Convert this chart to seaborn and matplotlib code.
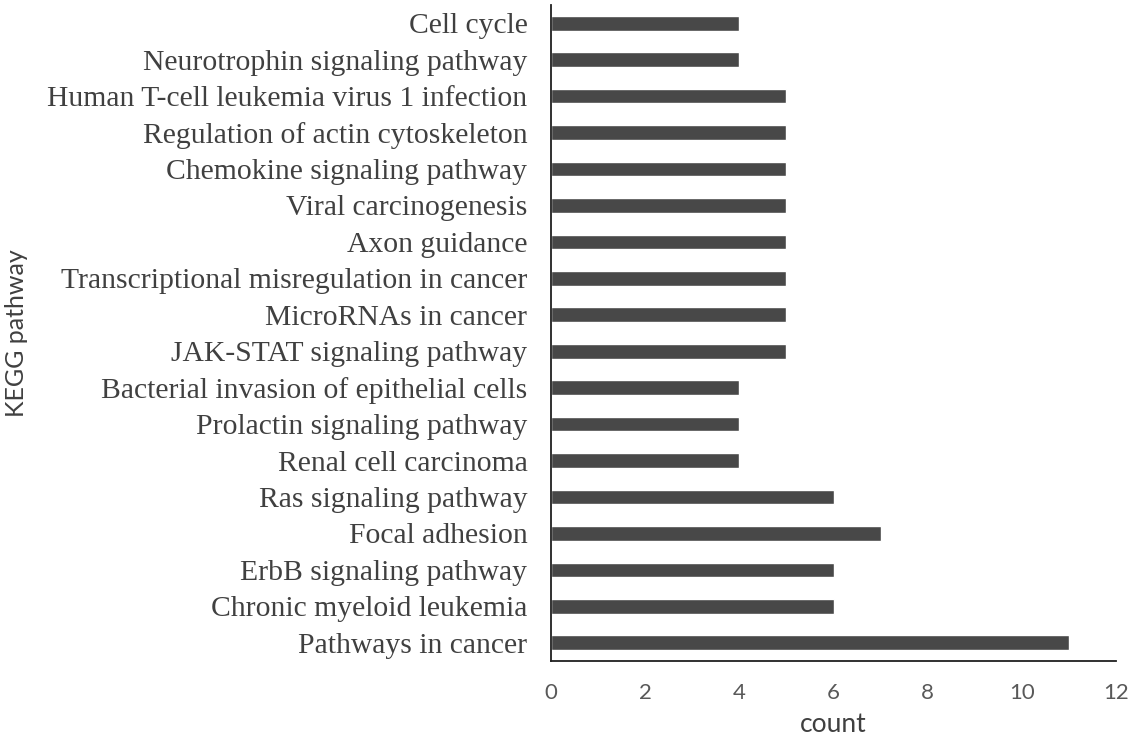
import matplotlib
matplotlib.use("Agg")
import matplotlib.pyplot as plt
import seaborn as sns
import pandas as pd

pathways = [
    "Cell cycle",
    "Neurotrophin signaling pathway",
    "Human T-cell leukemia virus 1 infection",
    "Regulation of actin cytoskeleton",
    "Chemokine signaling pathway",
    "Viral carcinogenesis",
    "Axon guidance",
    "Transcriptional misregulation in cancer",
    "MicroRNAs in cancer",
    "JAK-STAT signaling pathway",
    "Bacterial invasion of epithelial cells",
    "Prolactin signaling pathway",
    "Renal cell carcinoma",
    "Ras signaling pathway",
    "Focal adhesion",
    "ErbB signaling pathway",
    "Chronic myeloid leukemia",
    "Pathways in cancer",
]
counts = [4, 4, 5, 5, 5, 5, 5, 5, 5, 5, 4, 4, 4, 6, 7, 6, 6, 11]
x_ticks = [0, 2, 4, 6, 8, 10, 12]

df = pd.DataFrame({"pathway": pathways, "count": counts})

sns.set_style("white")
plt.rcParams["font.family"] = ["Lato", "DejaVu Sans"]

fig = plt.figure(figsize=(11.41, 7.35), dpi=100)
ax = fig.add_axes([0.4829, 0.1007, 0.4952, 0.8925])

sns.barplot(data=df, x="count", y="pathway", order=pathways, color="#484848",
            saturation=1, width=0.40, ax=ax)

ax.set_xlim(0, 12)
ax.set_xticks(x_ticks)
ax.set_xticklabels([str(t) for t in x_ticks], fontsize=16, color="#595959")
ax.set_yticklabels(pathways, family="Liberation Serif", fontsize=21.3, color="#404040")
ax.tick_params(axis="both", length=0)
ax.tick_params(axis="x", pad=16)
ax.tick_params(axis="y", pad=17)

ax.set_xlabel("count", fontsize=19, color="#404040", labelpad=6)
ax.set_ylabel("KEGG pathway", fontsize=18, color="#404040")
ax.yaxis.set_label_coords(-0.925, 0.5)

for s in ["top", "right"]:
    ax.spines[s].set_visible(False)
for s in ["left", "bottom"]:
    ax.spines[s].set_color("#202020")
    ax.spines[s].set_linewidth(1.3)

fig.savefig("out.png", dpi=100)
